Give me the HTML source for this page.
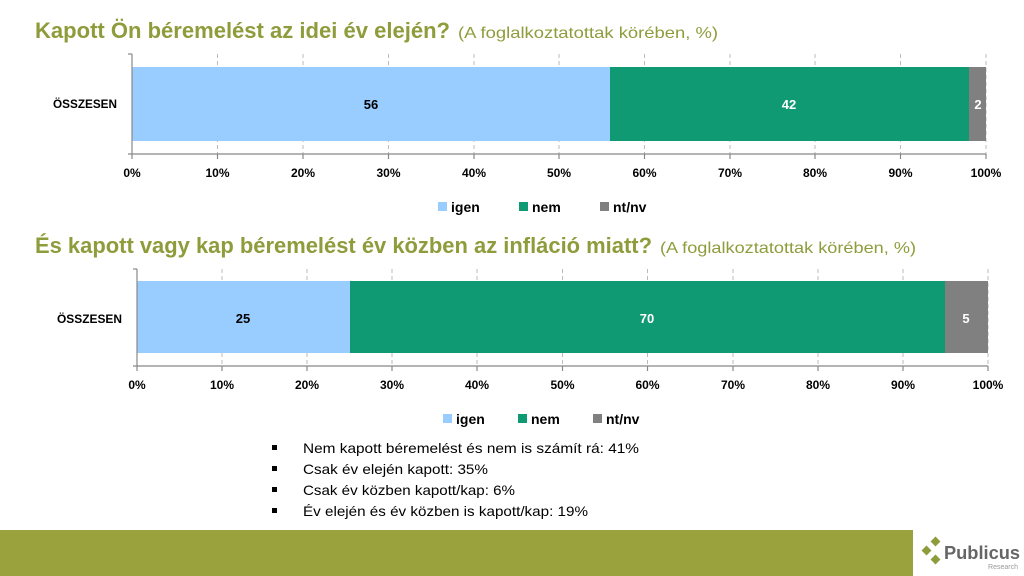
<!DOCTYPE html>
<html><head><meta charset="utf-8"><style>
html,body{margin:0;padding:0;background:#fff;}
svg{display:block;font-family:"Liberation Sans",sans-serif;}
</style></head><body>
<svg width="1024" height="576" viewBox="0 0 1024 576" xmlns="http://www.w3.org/2000/svg">
<text x="35" y="38" font-size="22" font-weight="bold" fill="#8f9c3b" textLength="415" lengthAdjust="spacingAndGlyphs">Kapott Ön béremelést az idei év elején?</text>
<text x="458" y="38" font-size="16" fill="#8f9c3b" textLength="260" lengthAdjust="spacingAndGlyphs">(A foglalkoztatottak körében, %)</text>

<g stroke="#bbb" stroke-dasharray="4,3" stroke-width="1">
<line x1="217.5" y1="54" x2="217.5" y2="154"/><line x1="303" y1="54" x2="303" y2="154"/><line x1="388.5" y1="54" x2="388.5" y2="154"/><line x1="474" y1="54" x2="474" y2="154"/><line x1="559" y1="54" x2="559" y2="154"/><line x1="644.5" y1="54" x2="644.5" y2="154"/><line x1="730" y1="54" x2="730" y2="154"/><line x1="815" y1="54" x2="815" y2="154"/><line x1="900.5" y1="54" x2="900.5" y2="154"/><line x1="986" y1="54" x2="986" y2="154"/>
</g>
<rect x="132" y="67" width="478" height="74" fill="#99ccff"/>
<rect x="610" y="67" width="359" height="74" fill="#109a74"/>
<rect x="969" y="67" width="17" height="74" fill="#808080"/>
<g stroke="#888" stroke-width="1.2"><line x1="132" y1="54" x2="132" y2="159"/><line x1="128" y1="154" x2="986" y2="154"/><line x1="128" y1="54" x2="132" y2="54"/>
<line x1="217.5" y1="154" x2="217.5" y2="159"/><line x1="303" y1="154" x2="303" y2="159"/><line x1="388.5" y1="154" x2="388.5" y2="159"/><line x1="474" y1="154" x2="474" y2="159"/><line x1="559" y1="154" x2="559" y2="159"/><line x1="644.5" y1="154" x2="644.5" y2="159"/><line x1="730" y1="154" x2="730" y2="159"/><line x1="815" y1="154" x2="815" y2="159"/><line x1="900.5" y1="154" x2="900.5" y2="159"/><line x1="986" y1="154" x2="986" y2="159"/></g>
<g font-size="12" font-weight="bold" text-anchor="middle" fill="#000">
<text x="371" y="109" font-size="13">56</text><text x="789" y="109" font-size="13" fill="#fff">42</text><text x="978" y="109" font-size="13" fill="#fff">2</text>
<text x="117" y="108" text-anchor="end" textLength="64" lengthAdjust="spacingAndGlyphs">ÖSSZESEN</text>
<text x="132" y="177">0%</text><text x="217.5" y="177">10%</text><text x="303" y="177">20%</text><text x="388.5" y="177">30%</text><text x="474" y="177">40%</text><text x="559" y="177">50%</text><text x="644.5" y="177">60%</text><text x="730" y="177">70%</text><text x="815" y="177">80%</text><text x="900.5" y="177">90%</text><text x="986" y="177">100%</text>
</g>
<g font-size="14" font-weight="bold" fill="#000">
<rect x="438" y="202" width="9" height="9" fill="#99ccff"/><text x="451" y="212">igen</text>
<rect x="519" y="202" width="9" height="9" fill="#109a74"/><text x="532" y="212">nem</text>
<rect x="600" y="202" width="9" height="9" fill="#808080"/><text x="613" y="212">nt/nv</text>
</g>

<text x="35" y="253" font-size="22" font-weight="bold" fill="#8f9c3b" textLength="617" lengthAdjust="spacingAndGlyphs">És kapott vagy kap béremelést év közben az infláció miatt?</text>
<text x="660" y="253" font-size="16" fill="#8f9c3b" textLength="256" lengthAdjust="spacingAndGlyphs">(A foglalkoztatottak körében, %)</text>

<g stroke="#bbb" stroke-dasharray="4,3" stroke-width="1">
<line x1="222" y1="269" x2="222" y2="366"/><line x1="307" y1="269" x2="307" y2="366"/><line x1="392" y1="269" x2="392" y2="366"/><line x1="477" y1="269" x2="477" y2="366"/><line x1="562.5" y1="269" x2="562.5" y2="366"/><line x1="647.5" y1="269" x2="647.5" y2="366"/><line x1="733" y1="269" x2="733" y2="366"/><line x1="818" y1="269" x2="818" y2="366"/><line x1="903" y1="269" x2="903" y2="366"/><line x1="988" y1="269" x2="988" y2="366"/>
</g>
<rect x="137" y="281" width="213" height="72" fill="#99ccff"/>
<rect x="350" y="281" width="595" height="72" fill="#109a74"/>
<rect x="945" y="281" width="43" height="72" fill="#808080"/>
<g stroke="#888" stroke-width="1.2"><line x1="137" y1="269" x2="137" y2="371"/><line x1="133" y1="366" x2="988" y2="366"/><line x1="133" y1="269" x2="137" y2="269"/>
<line x1="222" y1="366" x2="222" y2="371"/><line x1="307" y1="366" x2="307" y2="371"/><line x1="392" y1="366" x2="392" y2="371"/><line x1="477" y1="366" x2="477" y2="371"/><line x1="562.5" y1="366" x2="562.5" y2="371"/><line x1="647.5" y1="366" x2="647.5" y2="371"/><line x1="733" y1="366" x2="733" y2="371"/><line x1="818" y1="366" x2="818" y2="371"/><line x1="903" y1="366" x2="903" y2="371"/><line x1="988" y1="366" x2="988" y2="371"/></g>
<g font-size="12" font-weight="bold" text-anchor="middle" fill="#000">
<text x="243" y="323" font-size="13">25</text><text x="647" y="323" font-size="13" fill="#fff">70</text><text x="966" y="323" font-size="13" fill="#fff">5</text>
<text x="122" y="323" text-anchor="end" textLength="65" lengthAdjust="spacingAndGlyphs">ÖSSZESEN</text>
<text x="137" y="389">0%</text><text x="222" y="389">10%</text><text x="307" y="389">20%</text><text x="392" y="389">30%</text><text x="477" y="389">40%</text><text x="562.5" y="389">50%</text><text x="647.5" y="389">60%</text><text x="733" y="389">70%</text><text x="818" y="389">80%</text><text x="903" y="389">90%</text><text x="988" y="389">100%</text>
</g>
<g font-size="14" font-weight="bold" fill="#000">
<rect x="443" y="414" width="9" height="9" fill="#99ccff"/><text x="456" y="424">igen</text>
<rect x="518" y="414" width="9" height="9" fill="#109a74"/><text x="531" y="424">nem</text>
<rect x="593" y="414" width="9" height="9" fill="#808080"/><text x="606" y="424">nt/nv</text>
</g>

<g font-size="14" fill="#000">
<rect x="272" y="445" width="5" height="5"/><text x="303" y="453" textLength="336" lengthAdjust="spacingAndGlyphs">Nem kapott béremelést és nem is számít rá: 41%</text>
<rect x="272" y="466" width="5" height="5"/><text x="303" y="474" textLength="185" lengthAdjust="spacingAndGlyphs">Csak év elején kapott: 35%</text>
<rect x="272" y="487" width="5" height="5"/><text x="303" y="495" textLength="212" lengthAdjust="spacingAndGlyphs">Csak év közben kapott/kap: 6%</text>
<rect x="272" y="508" width="5" height="5"/><text x="303" y="516" textLength="285" lengthAdjust="spacingAndGlyphs">Év elején és év közben is kapott/kap: 19%</text>
</g>

<rect x="0" y="530" width="913" height="46" fill="#99a23c"/>
<g fill="#8f9c3b">
<rect x="932" y="538" width="7" height="7" transform="rotate(45 935.5 541.5)"/>
<rect x="923" y="547" width="7" height="7" transform="rotate(45 926.5 550.5)"/>
<rect x="932" y="556" width="7" height="7" transform="rotate(45 935.5 559.5)"/>
</g>
<text x="944" y="559" font-size="18" font-weight="bold" fill="#666" textLength="76" lengthAdjust="spacingAndGlyphs">Publicus</text>
<text x="1018" y="569" font-size="7" fill="#999" text-anchor="end">Research</text>
</svg>
</body></html>
